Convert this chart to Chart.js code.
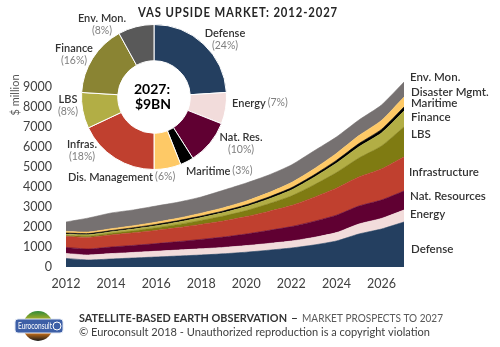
<!DOCTYPE html>
<html>
<head>
<meta charset="utf-8">
<script src="https://cdn.jsdelivr.net/npm/chart.js@4.4.1/dist/chart.umd.min.js"></script>
<style>
  html, body { margin: 0; padding: 0; background: #fff; }
  #wrap { position: relative; width: 500px; height: 347px; }
  #market { position: absolute; left: 0; top: 0; }
  #share { position: absolute; left: 81px; top: 24px; }
</style>
</head>
<body>
<div id="wrap">
  <canvas id="market" width="500" height="347"></canvas>
  <canvas id="share" width="146" height="146"></canvas>
</div>
<script>
// Yearly revenues, $ million, one array per application (bottom of the stack first)
const years = ["2012", "2013", "2014", "2015", "2016", "2017", "2018", "2019",
  "2020", "2021", "2022", "2023", "2024", "2025", "2026", "2027"];
const defense = [430, 350, 400, 450, 500, 550, 600, 660, 740, 840, 950, 1100, 1300, 1650, 1900, 2250];
const energy = [250, 250, 270, 280, 290, 300, 310, 320, 330, 340, 350, 380, 420, 500, 530, 600];
const natResources = [300, 300, 330, 350, 380, 420, 470, 520, 580, 650, 720, 800, 870, 900, 920, 950];
const infrastructure = [550, 580, 600, 630, 660, 700, 750, 800, 870, 950, 1050, 1200, 1350, 1450, 1550, 1700];
const finance = [50, 60, 80, 100, 130, 160, 200, 250, 300, 380, 480, 620, 780, 950, 1150, 1500];
const lbs = [60, 70, 80, 90, 100, 120, 140, 170, 200, 240, 300, 380, 470, 560, 650, 800];
const maritime = [60, 60, 60, 65, 70, 75, 80, 85, 90, 100, 110, 120, 140, 160, 180, 200];
const disasterMgmt = [80, 80, 90, 100, 110, 120, 140, 160, 190, 220, 260, 300, 350, 400, 450, 500];
const envMonitoring = [470, 700, 790, 790, 810, 800, 810, 880, 900, 880, 880, 900, 820, 780, 770, 750];
const yTicks = [0, 1000, 2000, 3000, 4000, 5000, 6000, 7000, 8000, 9000];

const seriesNames = ["Defense", "Energy", "Nat. Resources", "Infrastructure", "Finance",
  "LBS", "Maritime", "Disaster Mgmt.", "Env. Mon."];
const seriesValues = [defense, energy, natResources, infrastructure, finance,
  lbs, maritime, disasterMgmt, envMonitoring];

// 2027 split, percent (clockwise from 12 o'clock)
const shareNames = ["Defense", "Energy", "Nat. Res.", "Maritime", "Dis. Management",
  "Infras.", "LBS", "Finance", "Env. Mon."];
const shareValues = [24, 7, 10, 3, 6, 18, 8, 16, 8];

const stackColors = ["#243f60", "#f2dcdb", "#600032", "#c0402f", "#7f7b12",
  "#b2ae45", "#000000", "#fec966", "#767171"];
const shareColors = ["#243f60", "#f2dcdb", "#600032", "#000000", "#fec966",
  "#c0402f", "#b2ae45", "#8a8433", "#595959"];

// where the names go on the right of the stack (canvas px)
const sideLabelPos = [
  [411, 249], [410, 214], [410, 196], [409, 172], [411, 117],
  [411, 134], [411, 103], [411, 92], [410, 77],
];
// around the ring: two-line labels are centred, inline ones start at x
const ringLabelPos = [
  { x: 225, y: 33, inline: false },
  { x: 232, y: 103, inline: true },
  { x: 241, y: 137, inline: false },
  { x: 186, y: 171, inline: true },
  { x: 68, y: 177, inline: true },
  { x: 82, y: 144, inline: false },
  { x: 68, y: 99, inline: false },
  { x: 74, y: 48, inline: false },
  { x: 102, y: 18, inline: false },
];

const FONT = "Lato, 'Open Sans', sans-serif";

function put(ctx, str, x, y, font, color, align = "left", maxW) {
  ctx.font = font;
  ctx.fillStyle = color;
  ctx.textAlign = align;
  ctx.textBaseline = "middle";
  if (maxW) ctx.fillText(str, x, y, maxW);
  else ctx.fillText(str, x, y);
}

function drawLogo(ctx) {
  ctx.save();
  const g = ctx.createLinearGradient(38, 311, 38, 341);
  g.addColorStop(0, "#2f8a3a");
  g.addColorStop(0.45, "#f2c21a");
  g.addColorStop(0.7, "#e07b16");
  g.addColorStop(1, "#1a1a1a");
  ctx.beginPath();
  ctx.arc(38, 326, 15, 0, Math.PI * 2);
  ctx.fillStyle = g;
  ctx.fill();
  ctx.beginPath();
  ctx.roundRect(15, 319, 48, 14, 3);
  ctx.fillStyle = "#3d5fa6";
  ctx.fill();
  ctx.strokeStyle = "#dfe6f3";
  ctx.lineWidth = 1;
  ctx.stroke();
  put(ctx, "Euroconsult", 18, 326.5, "9px " + FONT, "#fff", "left", 34);
  ctx.beginPath();
  ctx.arc(57, 326, 4, 0, Math.PI * 2);
  ctx.strokeStyle = "#fff";
  ctx.stroke();
  ctx.restore();
}

const annotations = {
  id: "annotations",
  afterDraw(chart) {
    const ctx = chart.ctx;
    ctx.save();

    ctx.letterSpacing = "1px";
    put(ctx, "VAS UPSIDE MARKET: 2012-2027", 238, 13, "bold 13px " + FONT, "#262626", "center", 200);
    ctx.letterSpacing = "0px";

    ctx.save();
    ctx.translate(15, 95);
    ctx.rotate(-Math.PI / 2);
    put(ctx, "$ million", 0, 0, "11px " + FONT, "#595959", "center");
    ctx.restore();

    seriesNames.forEach((name, i) => {
      const [x, y] = sideLabelPos[i];
      put(ctx, name, x, y, "600 11.5px " + FONT, "#333", "left");
    });

    shareNames.forEach((name, i) => {
      const p = ringLabelPos[i];
      const pct = `(${shareValues[i]}%)`;
      const nameFont = "600 11px " + FONT;
      const pctFont = "10.5px " + FONT;
      if (p.inline) {
        put(ctx, name, p.x, p.y, nameFont, "#333", "left");
        const w = ctx.measureText(name).width;
        put(ctx, pct, p.x + w + 2, p.y, pctFont, "#7f7f7f", "left");
      } else {
        put(ctx, name, p.x, p.y, nameFont, "#333", "center");
        put(ctx, pct, p.x, p.y + 12.5, pctFont, "#7f7f7f", "center");
      }
    });

    // market size in the ring's hole, from the 2027 column of the stack
    const last = years.length - 1;
    const total2027 = seriesValues.reduce((sum, s) => sum + s[last], 0);
    put(ctx, `${years[last]}:`, 152, 89, "bold 14px " + FONT, "#000", "center");
    put(ctx, `$${Math.round(total2027 / 1000)}BN`, 153, 104, "bold 14px " + FONT, "#000", "center");

    drawLogo(ctx);
    put(ctx, "SATELLITE-BASED EARTH OBSERVATION", 79, 318, "bold 12px " + FONT, "#333", "left", 208);
    put(ctx, "–", 291, 318, "bold 12px " + FONT, "#333", "left");
    put(ctx, "MARKET PROSPECTS TO 2027", 302, 318, "12px " + FONT, "#595959", "left", 141);
    put(ctx, "© Euroconsult 2018 - Unauthorized reproduction is a copyright violation",
      79, 332, "12px " + FONT, "#404040", "left", 351);

    ctx.restore();
  },
};

new Chart(document.getElementById("market"), {
  type: "line",
  data: {
    labels: years,
    datasets: seriesValues.map((values, i) => ({
      label: seriesNames[i],
      data: values,
      backgroundColor: stackColors[i],
      borderColor: stackColors[i],
      borderWidth: 0.6,
      pointRadius: 0,
      tension: 0.2,
      fill: i === 0 ? "origin" : "-1",
    })),
  },
  options: {
    responsive: false,
    animation: false,
    layout: { padding: { top: 77, right: 96, bottom: 0, left: 0 } },
    plugins: { legend: { display: false }, tooltip: { enabled: false } },
    scales: {
      x: {
        offset: false,
        grid: { display: false, drawTicks: false },
        border: { display: false },
        ticks: {
          autoSkip: false,
          maxRotation: 0,
          padding: 9,
          color: "#404040",
          font: { family: FONT, size: 12.5 },
          callback: (v, i) => (i % 2 === 0 ? years[i] : ""),
        },
        afterFit: (scale) => { scale.height = 80; },
      },
      y: {
        stacked: true,
        min: 0,
        max: 9500,
        grid: { display: false, drawTicks: false },
        border: { display: false },
        afterBuildTicks: (scale) => {
          scale.ticks = yTicks.map((value) => ({ value }));
        },
        ticks: {
          padding: 14,
          color: "#404040",
          font: { family: FONT, size: 12.5 },
          callback: (v) => String(v),
        },
        afterFit: (scale) => { scale.width = 66; },
      },
    },
  },
  plugins: [annotations],
});

new Chart(document.getElementById("share"), {
  type: "doughnut",
  data: {
    labels: shareNames,
    datasets: [{
      data: shareValues,
      backgroundColor: shareColors,
      borderColor: "#ffffff",
      borderWidth: 1,
    }],
  },
  options: {
    responsive: false,
    animation: false,
    cutout: "50%",
    layout: { padding: 0 },
    plugins: { legend: { display: false }, tooltip: { enabled: false } },
  },
});
</script>
</body>
</html>
